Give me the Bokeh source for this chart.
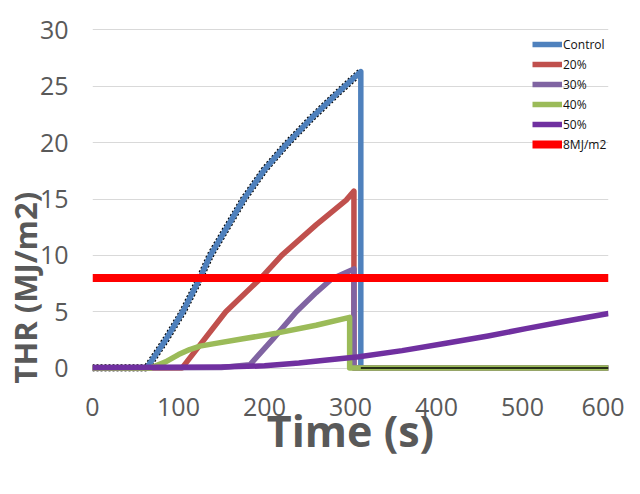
import math
from bokeh.plotting import figure
from bokeh.models import Range1d, Legend, LegendItem, FixedTicker
from bokeh.embed import file_html
from bokeh.resources import INLINE

# ---- data ----
control_t = [0, 63, 85, 105, 125, 137, 176, 200, 225, 255, 285, 312, 312, 600]
control_v = [0, 0, 2.5, 5, 8, 10, 15, 17.6, 19.8, 22.2, 24.4, 26.3, 0, 0]

p20_t = [0, 104, 155, 196, 220, 260, 295, 304, 304, 600]
p20_v = [0, 0, 5, 8, 10, 12.7, 14.9, 15.7, 0, 0]

p30_t = [0, 150, 183, 210, 237, 260, 278, 304, 304, 600]
p30_v = [0, 0.05, 0.3, 2.6, 5, 6.7, 7.9, 8.8, 0, 0]

p40_t = [0, 67, 85, 100, 113, 125, 140, 175, 214, 260, 299, 299, 600]
p40_v = [0, 0, 0.55, 1.2, 1.65, 1.95, 2.15, 2.6, 3.1, 3.8, 4.5, 0, 0]

p50_t = [0, 150, 200, 240, 270, 310, 360, 411, 460, 504, 550, 600]
p50_v = [0.05, 0.1, 0.2, 0.45, 0.7, 1.0, 1.55, 2.2, 2.85, 3.5, 4.15, 4.85]

limit_t = [0, 600]
limit_v = [8, 8]

x_ticks = [0, 100, 200, 300, 400, 500, 600]
y_ticks = [0, 5, 10, 15, 20, 25, 30]

names = ["Control", "20%", "30%", "40%", "50%", "8MJ/m2"]
colors = ["#4F81BD", "#C0504D", "#8064A2", "#9BBB59", "#7030A0", "#FF0000"]

x_title = "Time (s)"
y_title = "THR (MJ/m2)"

# ---- figure ----
p = figure(width=624, height=478, output_backend="svg", toolbar_location=None,
           x_range=Range1d(0, 600), y_range=Range1d(-0.3, 30.3),
           min_border_left=90, min_border_right=16, min_border_top=26, min_border_bottom=107)
p.outline_line_alpha = 0
p.background_fill_color = "white"

p.xgrid.visible = False
p.ygrid.ticker = FixedTicker(ticks=y_ticks)
p.ygrid.grid_line_color = "#D9D9D9"
p.ygrid.grid_line_width = 1

for ax in (p.xaxis[0], p.yaxis[0]):
    ax.axis_line_alpha = 0
    ax.major_tick_line_alpha = 0
    ax.minor_tick_line_alpha = 0
    ax.major_tick_out = 0
    ax.major_tick_in = 0
    ax.minor_tick_out = 0
    ax.minor_tick_in = 0
    ax.major_label_text_font = "Open Sans"
    ax.major_label_text_font_size = "25px"
    ax.major_label_text_color = "#595959"
    ax.axis_label_text_font = "Open Sans"
    ax.axis_label_text_font_style = "bold"
    ax.axis_label_text_color = "#595959"
p.xaxis.ticker = FixedTicker(ticks=x_ticks)
p.yaxis.ticker = FixedTicker(ticks=y_ticks)
p.xaxis.major_label_standoff = 26
p.yaxis.major_label_standoff = 24

p.xaxis.axis_label = x_title
p.xaxis.axis_label_text_font_size = "43px"
p.xaxis.axis_label_standoff = -18
# the original title sits below the middle of the axis: pad its end with no-break spaces
p.yaxis.axis_label = y_title + "\u00a0" * 22
p.yaxis.axis_label_text_font_size = "31px"
p.yaxis.axis_label_standoff = -9

# control curve pieces for the thin black edge drawn by the original chart
peak = control_v.index(max(control_v))
rise_t, rise_v = control_t[:peak + 1], control_v[:peak + 1]
tail_t, tail_v = control_t[peak + 1:], control_v[peak + 1:]

p.line(rise_t, rise_v, line_color="black", line_width=7.5, line_dash="2 2", line_join="round")

series = [(control_t, control_v), (p20_t, p20_v), (p30_t, p30_v), (p40_t, p40_v), (p50_t, p50_v)]
items = []
for (t, v), n, c in zip(series, names[:5], colors[:5]):
    r = p.line(t, v, line_color=c, line_width=5.5, line_join="round")
    items.append(LegendItem(label=n, renderers=[r]))
p.line(tail_t, tail_v, line_color="black", line_width=1.5)
r = p.line(limit_t, limit_v, line_color=colors[5], line_width=8)
items.append(LegendItem(label=names[5], renderers=[r]))

legend = Legend(items=items, location=(440, 217), glyph_width=30, glyph_height=20,
                label_height=20, spacing=0, padding=0, margin=0, label_standoff=1,
                label_text_font="Open Sans", label_text_font_size="12px",
                label_text_color="#111111", border_line_alpha=0, background_fill_alpha=0)
p.add_layout(legend)

open("out.html", "w").write(file_html(p, INLINE))
